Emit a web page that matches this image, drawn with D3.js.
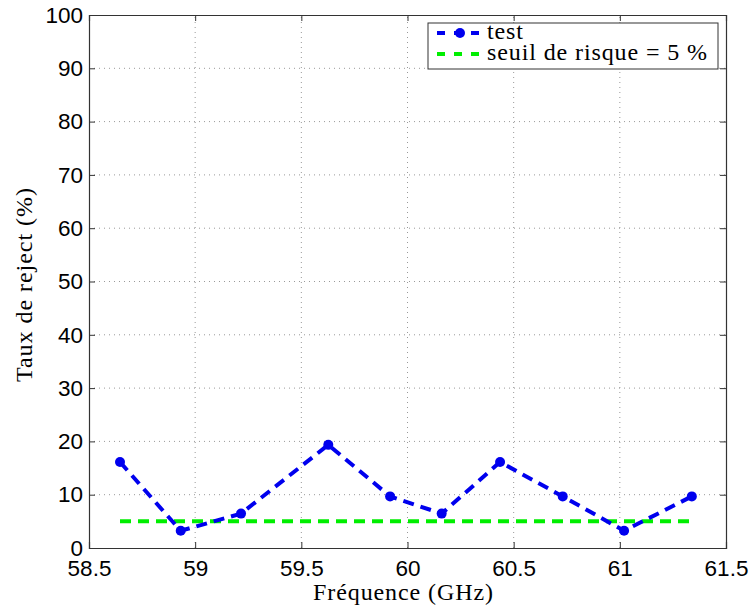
<!DOCTYPE html>
<html><head><meta charset="utf-8">
<script src="https://cdn.jsdelivr.net/npm/d3@7"></script>
<style>body{margin:0;background:#fff}svg{display:block}.serif{font-family:"Liberation Serif","Times New Roman",serif}</style>
</head><body>
<script>
const freq = [58.646, 58.932, 59.216, 59.627, 59.918, 60.161, 60.436, 60.731, 61.02, 61.339];
const rate = [16.13, 3.23, 6.45, 19.35, 9.68, 6.45, 16.13, 9.68, 3.23, 9.68];
const threshold = 5;
const xTicks = [58.5, 59, 59.5, 60, 60.5, 61, 61.5];
const yTicks = [0, 10, 20, 30, 40, 50, 60, 70, 80, 90, 100];
const seriesNames = ["test", "seuil de risque = 5 %"];

const W = 754, H = 609;
const m = {l: 89, r: 28, t: 15, b: 61};
const svg = d3.select("body").append("svg").attr("width", W).attr("height", H);
const x = d3.scaleLinear().domain([58.5, 61.5]).range([m.l, W - m.r]);
const y = d3.scaleLinear().domain([0, 100]).range([H - m.b, m.t]);

// grid
const g = svg.append("g");
g.selectAll(".gx").data(xTicks.slice(1, -1)).enter().append("line")
  .attr("x1", d => x(d)).attr("x2", d => x(d)).attr("y1", y(0)).attr("y2", y(100))
  .attr("stroke", "#999").attr("stroke-width", 1).attr("stroke-dasharray", "1,4");
g.selectAll(".gy").data(yTicks.slice(1, -1)).enter().append("line")
  .attr("y1", d => y(d)).attr("y2", d => y(d)).attr("x1", x(58.5)).attr("x2", x(61.5))
  .attr("stroke", "#999").attr("stroke-width", 1).attr("stroke-dasharray", "1,4");

// axes
const font = "'Liberation Sans', Arial, sans-serif";
const xa = svg.append("g").attr("transform", `translate(0,${y(0)})`)
  .call(d3.axisBottom(x).tickValues(xTicks).tickSize(-6).tickPadding(12).tickFormat(d3.format("")));
const ya = svg.append("g").attr("transform", `translate(${x(58.5)},0)`)
  .call(d3.axisLeft(y).tickValues(yTicks).tickSize(-6).tickPadding(6).tickFormat(d3.format("")));
const xt = svg.append("g").attr("transform", `translate(0,${y(100)})`)
  .call(d3.axisTop(x).tickValues(xTicks).tickSize(-6).tickFormat(""));
const yr = svg.append("g").attr("transform", `translate(${x(61.5)},0)`)
  .call(d3.axisRight(y).tickValues(yTicks).tickSize(-6).tickFormat(""));
[xa, ya, xt, yr].forEach(a => {
  a.select(".domain").attr("stroke", "#333").attr("stroke-width", 1.2);
  a.selectAll(".tick line").attr("stroke", "#333");
  a.selectAll("text").attr("font-family", font).attr("font-size", 22.5).attr("fill", "#000");
});

// threshold line
svg.append("line")
  .attr("x1", x(freq[0])).attr("x2", x(freq[freq.length - 1]))
  .attr("y1", y(threshold)).attr("y2", y(threshold))
  .attr("stroke", "#00ee00").attr("stroke-width", 4).attr("stroke-dasharray", "11,7");

// test series
svg.append("path").datum(freq.map((f, i) => [f, rate[i]]))
  .attr("d", d3.line().x(d => x(d[0])).y(d => y(d[1])))
  .attr("fill", "none").attr("stroke", "#0000ee").attr("stroke-width", 4).attr("stroke-dasharray", "11,7");
svg.selectAll(".pt").data(freq).enter().append("circle")
  .attr("cx", d => x(d)).attr("cy", (d, i) => y(rate[i])).attr("r", 5).attr("fill", "#0000ee");

// labels
svg.append("text").attr("class", "serif").attr("x", 403).attr("y", 600)
  .attr("text-anchor", "middle").attr("font-size", 24)
  .attr("textLength", 180).attr("lengthAdjust", "spacing").text("Fréquence (GHz)");
svg.append("text").attr("class", "serif").attr("transform", `translate(32,285) rotate(-90)`)
  .attr("text-anchor", "middle").attr("font-size", 24)
  .attr("textLength", 194).attr("lengthAdjust", "spacing").text("Taux de reject (%)");

// legend
const lg = svg.append("g");
lg.append("rect").attr("x", 428).attr("y", 23).attr("width", 290).attr("height", 46)
  .attr("fill", "#fff").attr("stroke", "#333").attr("stroke-width", 1);
const rows = [{c: "#0000ee", marker: true, len: 36}, {c: "#00ee00", marker: false, len: 220}];
rows.forEach((r, i) => {
  const yy = 33 + i * 21;
  lg.append("line").attr("x1", 437).attr("x2", 483).attr("y1", yy).attr("y2", yy)
    .attr("stroke", r.c).attr("stroke-width", 4).attr("stroke-dasharray", "8,9");
  if (r.marker) lg.append("circle").attr("cx", 460).attr("cy", yy).attr("r", 5).attr("fill", r.c);
  lg.append("text").attr("class", "serif").attr("x", 487).attr("y", yy + 5.5).attr("font-size", 24)
    .attr("textLength", r.len).attr("lengthAdjust", "spacing").text(seriesNames[i]);
});
</script>
</body></html>
